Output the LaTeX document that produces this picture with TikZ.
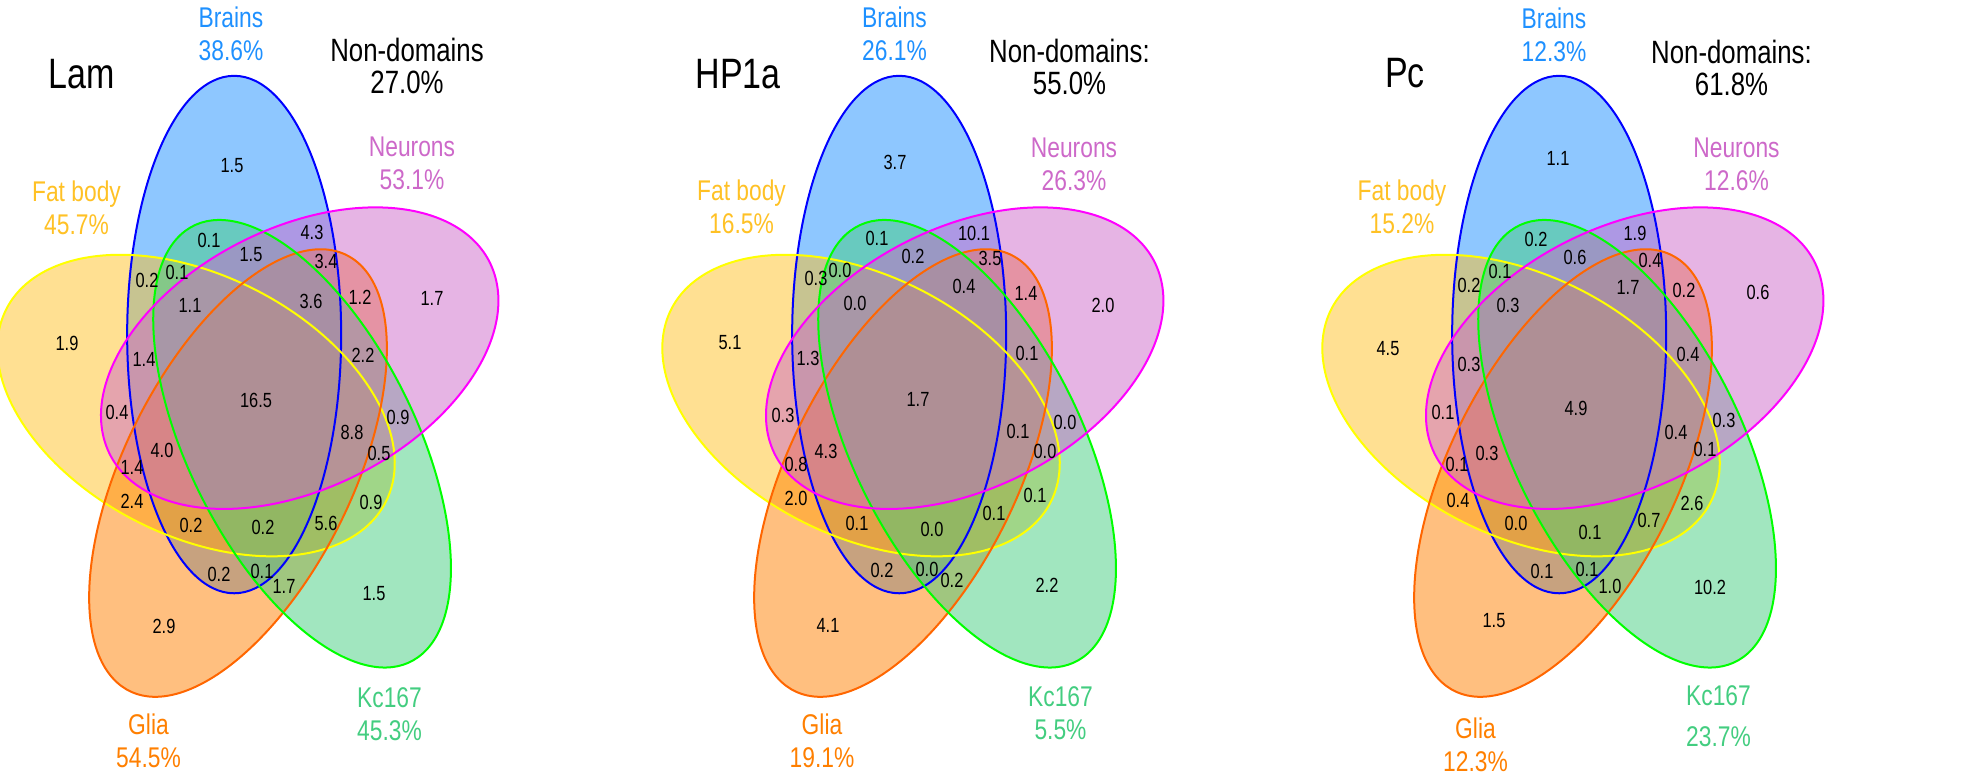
\documentclass[tikz,border=0pt]{standalone}
\usepackage{fontspec}
\setmainfont{Liberation Sans}
\definecolor{BrainsFill}{HTML}{1E90FF}
\definecolor{FatFill}{HTML}{FFC125}
\definecolor{GliaFill}{HTML}{FF7F00}
\definecolor{KcFill}{HTML}{43CD80}
\definecolor{NeuronsFill}{HTML}{CD69C9}
\definecolor{BrainsEdge}{RGB}{0,0,255}
\definecolor{FatEdge}{RGB}{255,255,0}
\definecolor{GliaEdge}{HTML}{FF6600}
\definecolor{KcEdge}{RGB}{0,255,0}
\definecolor{NeuronsEdge}{RGB}{255,0,255}
\tikzset{
  every node/.style={text=black},
  setarea/.style={fill opacity=0.5},
  setrim/.style={line width=1pt},
  petal/.style={shift={({58*cos(110-72*#1)},{-72.85*sin(110-72*#1)})}, yscale=1.256, rotate={90-72*#1}},
  regionnum/.style={font=\fontsize{8.2}{9}\selectfont, yscale=1.25},
  setlabel/.style={font=\fontsize{11.4}{13.2}\selectfont, align=center, yscale=1.25},
  nondomain/.style={font=\fontsize{12.9}{12.8}\selectfont, align=center, yscale=1.25},
  paneltitle/.style={font=\fontsize{17}{20}\selectfont, yscale=1.25},
}

\begin{document}
\begin{tikzpicture}[x=0.5pt, y=-0.5pt]
  \useasboundingbox (0,0) rectangle (1961,782);
  % Ellipses: Brains, Fat body, Glia, Kc167, Neurons
  \foreach \cx in {254,919,1579} {
    \begin{scope}[shift={(\cx,403)}]
      \foreach \fc/\k in {BrainsFill/0, FatFill/4, GliaFill/3, KcFill/2, NeuronsFill/1}
        \fill[setarea, fill=\fc, petal=\k] (0,0) ellipse [x radius=206, y radius=107];
      \foreach \lc/\k in {BrainsEdge/0, FatEdge/4, GliaEdge/3, KcEdge/2, NeuronsEdge/1}
        \draw[setrim, draw=\lc, petal=\k] (0,0) ellipse [x radius=206, y radius=107];
    \end{scope}
  }
  % Lam
  \node[paneltitle] (lam) at (82,74) {Lam};
  \node[setlabel, text=BrainsFill] (lam-brains) at (231,33.5) {Brains\\38.6\%};
  \node[nondomain] (lam-non) at (407,66) {Non-domains\\27.0\%};
  \node[setlabel, text=NeuronsFill] (lam-neurons) at (412,163.5) {Neurons\\53.1\%};
  \node[setlabel, text=FatFill] (lam-fat) at (76.5,207.5) {Fat body\\45.7\%};
  \node[setlabel, text=GliaFill] (lam-glia) at (148.5,740.5) {Glia\\54.5\%};
  \node[setlabel, text=KcFill] (lam-kc) at (389.5,714) {Kc167\\45.3\%};
  \foreach \x/\y/\v [count=\i] in {232/166/1.5, 209/240/0.1, 312/232/4.3, 251/255/1.5,
      326/261/3.4, 147/280/0.2, 177/272/0.1, 190/305/1.1, 311/301/3.6, 360/297/1.2,
      432/298/1.7, 67/343/1.9, 144/359/1.4, 363/355/2.2, 256/400/16.5, 117/412/0.4,
      398/417/0.9, 352/432/8.8, 162/450/4.0, 379/453/0.5, 132/467/1.4, 132/501/2.4,
      371/502/0.9, 191/525/0.2, 263/527/0.2, 326/523/5.6, 219/574/0.2, 262/571/0.1,
      284/586/1.7, 374/594/1.5, 164/626/2.9}
    \node[regionnum] (lam\i) at (\x,\y) {\v};
  % HP1a
  \node[paneltitle] (hp) at (738,74) {HP1a};
  \node[setlabel, text=BrainsFill] (hp-brains) at (894.5,33.5) {Brains\\26.1\%};
  \node[nondomain] (hp-non) at (1069.5,66.5) {Non-domains:\\55.0\%};
  \node[setlabel, text=NeuronsFill] (hp-neurons) at (1074,164.5) {Neurons\\26.3\%};
  \node[setlabel, text=FatFill] (hp-fat) at (741.5,206.5) {Fat body\\16.5\%};
  \node[setlabel, text=GliaFill] (hp-glia) at (822,741) {Glia\\19.1\%};
  \node[setlabel, text=KcFill] (hp-kc) at (1060.5,713) {Kc167\\5.5\%};
  \foreach \x/\y/\v [count=\i] in {895/162/3.7, 877/238/0.1, 974/233/10.1, 913/256/0.2,
      990/258/3.5, 816/278/0.3, 840/270/0.0, 964/286/0.4, 1026/293/1.4, 855/303/0.0,
      1103/305/2.0, 730/343/5.1, 808/358/1.3, 1027/353/0.1, 918/399/1.7, 783/415/0.3,
      1065/422/0.0, 1018/431/0.1, 826/451/4.3, 1045/451/0.0, 796/464/0.8, 796/498/2.0,
      1035/495/0.1, 857/523/0.1, 932/529/0.0, 994/513/0.1, 882/570/0.2, 927/569/0.0,
      952/580/0.2, 1047/585/2.2, 828/625/4.1}
    \node[regionnum] (hp\i) at (\x,\y) {\v};
  % Pc
  \node[paneltitle] (pc) at (1405,73) {Pc};
  \node[setlabel, text=BrainsFill] (pc-brains) at (1554,35) {Brains\\12.3\%};
  \node[nondomain] (pc-non) at (1731.5,68) {Non-domains:\\61.8\%};
  \node[setlabel, text=NeuronsFill] (pc-neurons) at (1736.5,164.5) {Neurons\\12.6\%};
  \node[setlabel, text=FatFill] (pc-fat) at (1402,207) {Fat body\\15.2\%};
  \node[setlabel, text=GliaFill] (pc-glia) at (1475.5,744.5) {Glia\\12.3\%};
  \node[setlabel, text=KcFill] (pc-kc) at (1718.5,716) {Kc167\\[3pt]23.7\%};
  \foreach \x/\y/\v [count=\i] in {1558/158/1.1, 1536/239/0.2, 1635/233/1.9, 1575/257/0.6,
      1650/260/0.4, 1469/285/0.2, 1500/271/0.1, 1628/287/1.7, 1684/290/0.2, 1508/305/0.3,
      1758/292/0.6, 1388/349/4.5, 1469/364/0.3, 1688/354/0.4, 1576/408/4.9, 1443/412/0.1,
      1724/420/0.3, 1676/432/0.4, 1487/453/0.3, 1705/449/0.1, 1457/464/0.1, 1458/500/0.4,
      1692/503/2.6, 1516/523/0.0, 1590/532/0.1, 1649/520/0.7, 1542/571/0.1, 1587/569/0.1,
      1610/586/1.0, 1710/587/10.2, 1494/621/1.5}
    \node[regionnum] (pc\i) at (\x,\y) {\v};
\end{tikzpicture}
\end{document}
